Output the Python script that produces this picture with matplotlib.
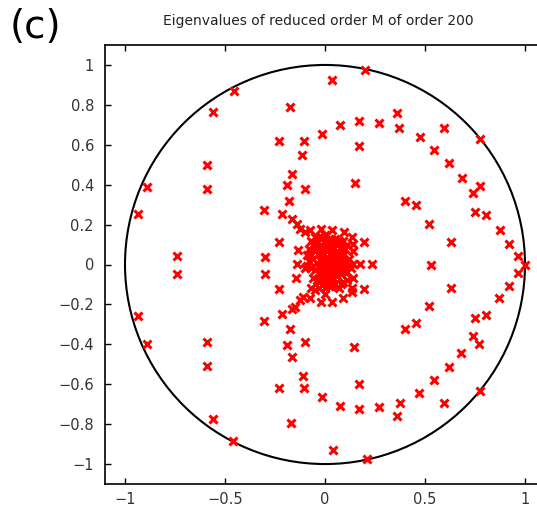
import matplotlib
matplotlib.use("Agg")
import matplotlib.pyplot as plt
from matplotlib.patches import Circle

# eigenvalues above the real axis (real part, imaginary part)
upper_re = [-0.453, -0.559, -0.175, 0.037, 0.200, -0.228, -0.103, -0.113, -0.592, -0.167,
            -0.192, -0.100, -0.592, -0.892, -0.933, -0.178, -0.303, -0.217, -0.167, -0.142,
            -0.125, -0.100, -0.075, -0.228, -0.137, -0.742, -0.300, -0.017, 0.075, 0.170,
            0.272, 0.358, 0.372, 0.475, 0.595, 0.775, 0.547, 0.622, 0.683, 0.775,
            0.742, 0.750, 0.805, 0.875, 0.922, 0.967, 0.170, 0.150, 0.400, 0.453,
            0.522, 0.630, 0.197, 0.142, 0.133, 0.097, 0.033, -0.020, 0.142]
upper_im = [0.871, 0.763, 0.788, 0.927, 0.975, 0.618, 0.618, 0.550, 0.500, 0.455,
            0.400, 0.380, 0.380, 0.388, 0.252, 0.318, 0.272, 0.252, 0.228, 0.205,
            0.180, 0.163, 0.172, 0.113, 0.072, 0.045, 0.040, 0.655, 0.697, 0.720,
            0.708, 0.758, 0.685, 0.638, 0.685, 0.630, 0.572, 0.508, 0.435, 0.393,
            0.358, 0.263, 0.250, 0.172, 0.105, 0.042, 0.592, 0.410, 0.317, 0.297,
            0.205, 0.113, 0.113, 0.068, 0.138, 0.163, 0.175, 0.180, 0.105]

# eigenvalues below the real axis
lower_re = [-0.458, -0.559, -0.170, 0.042, 0.208, -0.228, -0.103, -0.112, -0.592, -0.163,
            -0.192, -0.100, -0.592, -0.892, -0.933, -0.175, -0.303, -0.217, -0.167, -0.150,
            -0.125, -0.108, -0.075, -0.228, -0.145, -0.738, -0.300, -0.017, 0.075, 0.170,
            0.272, 0.358, 0.375, 0.470, 0.597, 0.775, 0.547, 0.622, 0.680, 0.772,
            0.738, 0.750, 0.803, 0.872, 0.922, 0.963, 0.170, 0.147, 0.400, 0.453,
            0.522, 0.630, 0.197, 0.142, 0.133, 0.092, 0.033, -0.020, 0.133]
lower_im = [-0.883, -0.773, -0.792, -0.932, -0.975, -0.620, -0.620, -0.557, -0.507, -0.462,
            -0.403, -0.387, -0.387, -0.400, -0.257, -0.325, -0.282, -0.248, -0.225, -0.212,
            -0.178, -0.162, -0.170, -0.123, -0.070, -0.050, -0.050, -0.662, -0.707, -0.723,
            -0.712, -0.758, -0.692, -0.642, -0.692, -0.633, -0.578, -0.515, -0.442, -0.398,
            -0.358, -0.267, -0.253, -0.170, -0.108, -0.045, -0.600, -0.415, -0.323, -0.295,
            -0.207, -0.117, -0.125, -0.070, -0.137, -0.170, -0.187, -0.187, -0.120]

# real eigenvalues
axis_re = [1.000, 0.530, 0.142, 0.175, 0.233, -0.142]
axis_im = [0.000, 0.000, 0.005, 0.005, 0.005, 0.005]

# tight cluster around the origin
core_re = [0.00, 0.02, -0.02, 0.04, -0.04, 0.06, -0.06, 0.08, 0.10, 0.12,
           0.01, 0.03, -0.01, -0.03, 0.05, 0.07, -0.05, 0.09, -0.07, -0.08,
           0.00, 0.02, -0.02, 0.04, 0.06, -0.04, 0.08, 0.10, -0.06, 0.01,
           0.03, -0.03, 0.05, 0.07, -0.05, 0.09, 0.11, 0.00,
           0.01, -0.01, 0.03, -0.03, 0.05, -0.05, 0.07, 0.09, -0.07, -0.09,
           0.00, 0.02, -0.02, 0.04, 0.06, -0.04, 0.08, 0.10, -0.06, 0.01,
           0.03, -0.03, 0.05, 0.07, -0.05, 0.09, 0.11, 0.00,
           -0.01, 0.01, 0.03, 0.05, -0.03, 0.02, 0.04, -0.02, 0.06, 0.00,
           -0.01, 0.01, 0.03, 0.05, -0.03, 0.02, 0.04, -0.02, 0.06, 0.00,
           -0.09, -0.08, -0.10, 0.12, 0.13, 0.11, 0.08, -0.07, 0.08, -0.07]
core_im = [0.01, 0.02, 0.02, 0.01, 0.01, 0.02, 0.03, 0.01, 0.01, 0.00,
           0.04, 0.05, 0.05, 0.06, 0.05, 0.06, 0.07, 0.05, 0.05, 0.02,
           0.08, 0.09, 0.10, 0.09, 0.10, 0.11, 0.09, 0.08, 0.10, 0.12,
           0.13, 0.14, 0.13, 0.12, 0.14, 0.12, 0.10, 0.15,
           -0.01, -0.02, -0.02, -0.01, -0.02, -0.03, -0.01, -0.02, -0.02, -0.01,
           -0.05, -0.06, -0.05, -0.07, -0.06, -0.08, -0.05, -0.04, -0.07, -0.10,
           -0.11, -0.12, -0.10, -0.12, -0.13, -0.09, -0.08, -0.15,
           0.03, 0.07, 0.03, 0.03, 0.09, 0.11, 0.06, 0.06, 0.06, 0.11,
           -0.04, -0.08, -0.04, -0.04, -0.09, -0.11, -0.10, -0.08, -0.03, -0.12,
           0.05, 0.08, -0.02, 0.03, -0.02, -0.04, 0.04, 0.12, -0.10, -0.12]

xticks = [-1, -0.5, 0, 0.5, 1]
yticks = [-1, -0.8, -0.6, -0.4, -0.2, 0, 0.2, 0.4, 0.6, 0.8, 1]

W, H = 537, 507
fig = plt.figure(figsize=(W / 100, H / 100), dpi=100)
ax = fig.add_axes([105 / W, (H - 484) / H, 440 / W, 439 / H])

ax.add_patch(Circle((0, 0), 1.0, fill=False, color="black", lw=1.5, zorder=1))

mk = dict(linestyle="none", marker="x", color="red", markersize=6.2, mew=2.2, zorder=2)
ax.plot(upper_re, upper_im, **mk)
ax.plot(lower_re, lower_im, **mk)
ax.plot(axis_re, axis_im, **mk)
ax.plot(core_re, core_im, **mk)

ax.set_xlim(-1.1, 1.1)
ax.set_ylim(-1.1, 1.1)
ax.set_xticks(xticks)
ax.set_xticklabels(["\u22121", "\u22120.5", "0", "0.5", "1"])
ax.set_yticks(yticks)
ax.set_yticklabels(["\u22121", "\u22120.8", "\u22120.6", "\u22120.4", "\u22120.2", "0",
                    "0.2", "0.4", "0.6", "0.8", "1"])
ax.tick_params(direction="in", top=True, right=True, length=4, width=1,
               labelsize=10.5, labelcolor="#333333")
ax.tick_params(axis="y", pad=8)
ax.tick_params(axis="x", pad=6)
for s in ax.spines.values():
    s.set_linewidth(1.2)
ax.spines["right"].set_visible(False)

fig.text(318 / W, 1 - 21 / H, "Eigenvalues of reduced order M of order 200",
         ha="center", va="center", fontsize=10, color="#222222")
fig.text(10 / W, 1 - 27 / H, "(c)", ha="left", va="center", fontsize=28)

fig.savefig("out.png", dpi=100)
